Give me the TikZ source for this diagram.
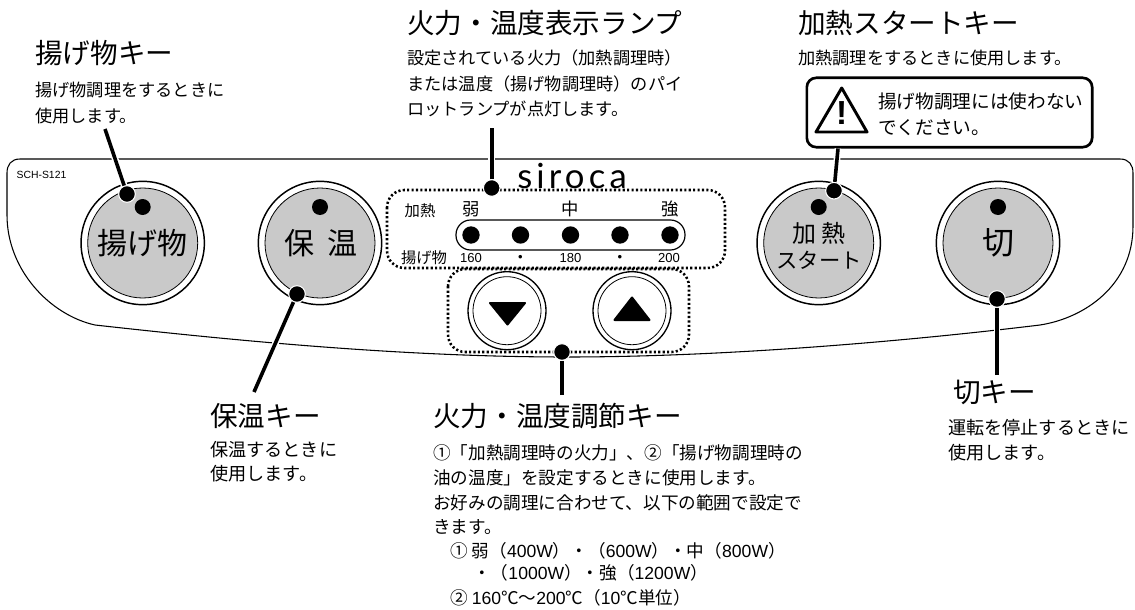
\documentclass[tikz,border=0pt]{standalone}
\usepackage{fontspec}
\setmainfont{Noto Sans CJK JP}
\newfontfamily\arialfont{Liberation Sans}
\newfontfamily\logofont{Lato}[LetterSpace=12]
\usetikzlibrary{positioning,calc}

\begin{document}
\begin{tikzpicture}[x=0.75pt,y=-0.75pt,
        title/.style={anchor=west,inner sep=0pt,font=\fontsize{20.7}{20.7}\selectfont},
        body/.style={anchor=west,inner sep=0pt,font=\fontsize{12.9}{12.9}\selectfont},
        bigbody/.style={anchor=west,inner sep=0pt,font=\fontsize{13.6}{13.6}\selectfont},
        adjbody/.style={anchor=west,inner sep=0pt,font=\fontsize{13.2}{13.2}\selectfont},
        keytext/.style={inner sep=0pt,font=\fontsize{22.5}{22.5}\selectfont},
        small/.style={inner sep=0pt,font=\fontsize{11.5}{11.5}\selectfont},
        level/.style={inner sep=0pt,font=\fontsize{13}{13}\selectfont},
        num/.style={inner sep=0pt,font=\arialfont\fontsize{9.8}{9.8}\selectfont},
        keyouter/.style={circle,draw,line width=1.1pt,fill=white,minimum size=92.5pt,inner sep=0pt},
        keyinner/.style={circle,draw,line width=0.6pt,fill=black!21,minimum size=82.5pt,inner sep=0pt},
        arrowouter/.style={circle,draw,line width=1pt,fill=white,minimum size=58.5pt,inner sep=0pt},
        arrowinner/.style={circle,draw,line width=0.6pt,minimum size=51pt,inner sep=0pt},
        lamp/.style={circle,fill=black,minimum size=12pt,inner sep=0pt},
        led/.style={circle,fill=black,minimum size=13pt,inner sep=0pt},
        leaddot/.style={circle,fill=black,draw=white,line width=0.8pt,minimum size=12.5pt,inner sep=0pt},
        leader/.style={line width=2.7pt,preaction={draw=white,line width=5pt}},
        dotbox/.style={draw,line width=1.9pt,dash pattern=on 1.6pt off 1.7pt,rounded corners=13pt}]
    \useasboundingbox (0,0) rectangle (1135,610);

    % panel outline
    \draw[line width=0.8pt] (20,159) -- (1120,159)
        .. controls (1129,159) and (1133,165) .. (1133,173) -- (1133,226)
        .. controls (1133,285) and (1085,318) .. (1040,325)
        .. controls (900,342) and (720,357) .. (567,357)
        .. controls (400,357) and (230,340) .. (95,325)
        .. controls (50,315) and (7,270) .. (7,215) -- (7,173)
        .. controls (7,165) and (11,159) .. (20,159) -- cycle;
    \node[inner sep=0pt,font=\arialfont\fontsize{7.8}{7.8}\selectfont] (model) at (41.5,175) {SCH-S121};

    % keys
    \foreach \keyname/\keyx in {fry/142.7,warm/320,heat/818.7,off/998} {
        \node[keyouter] (\keyname-o) at (\keyx,243) {};
        \node[keyinner] (\keyname-i) at (\keyx,243) {};
        \node[lamp] (\keyname-l) at (\keyx,207) {};
    }
    \node[keytext] (fry-t) at (142,243) {揚げ物};
    \node[keytext] (warm-t) at (321,243) {保\hspace{0.45em}温};
    \node[inner sep=0pt,font=\fontsize{18}{18}\selectfont] (heat-t1) at (819,233) {加\hspace{0.2em}熱};
    \node[inner sep=0pt,font=\fontsize{16}{16}\selectfont] (heat-t2) at (819,260) {スタート};
    \node[inner sep=0pt,font=\fontsize{24}{24}\selectfont] (off-t) at (998,243) {切};

    % lamp panel
    \draw[dotbox] (387,190) rectangle (725,268);
    \draw[dotbox] (448,269) rectangle (689,352);
    \node[inner sep=0pt,font=\logofont\fontsize{26}{26}\selectfont,anchor=base] (logo) at (572,188) {siroca};
    \draw[line width=0.9pt,rounded corners=11pt] (456,220) rectangle (685,250);
    \foreach \ledname/\ledx in {a/471,b/520.5,c/570.5,d/620,e/670}
        \node[led] (led-\ledname) at (\ledx,235) {};
    \node[small] (lab-heat) at (420,211) {加熱};
    \node[small] (lab-fry) at (424,258) {揚げ物};
    \node[level] (lab-low) at (471,209) {弱};
    \node[level] (lab-mid) at (570.5,209) {中};
    \node[level] (lab-high) at (670,209) {強};
    \node[num] (t160) at (471,258.5) {160};
    \node[num] (t170) at (520.5,258) {•};
    \node[num] (t180) at (570.5,258.5) {180};
    \node[num] (t190) at (620,258) {•};
    \node[num] (t200) at (669,258.5) {200};

    % arrow keys
    \node[arrowouter] (down-o) at (507,310.7) {};
    \node[arrowinner] (down-i) at (507,310.7) {};
    \node[arrowouter] (up-o) at (632,310.7) {};
    \node[arrowinner] (up-i) at (632,310.7) {};
    \fill[line join=round,draw,line width=1.5pt] (490,303) -- (525,303) -- (507.5,324.5) -- cycle;
    \fill[line join=round,draw,line width=1.5pt] (614.5,320) -- (649.5,320) -- (632,297.5) -- cycle;

    % leaders
    \node[leaddot] (dot-fry) at (127,194) {};
    \node[leaddot] (dot-warm) at (297,294) {};
    \node[leaddot] (dot-lamp) at (491.7,188) {};
    \node[leaddot] (dot-adj) at (562,352) {};
    \node[leaddot] (dot-heat) at (834,190.7) {};
    \node[leaddot] (dot-off) at (997,299) {};
    \coordinate (end-fry) at (105,129);
    \coordinate (end-warm) at (254,392);
    \coordinate (end-lamp) at (491.7,128);
    \coordinate (end-adj) at (562,395);
    \coordinate (end-off) at (997,375);
    \draw[leader] (end-fry) -- (dot-fry);
    \draw[leader] (end-warm) -- (dot-warm);
    \draw[leader] (end-lamp) -- (dot-lamp);
    \draw[leader] (end-adj) -- (dot-adj);
    \draw[leader] (end-off) -- (dot-off);

    % caution box
    \node[draw,line width=2pt,rounded corners=7pt,fill=white,minimum width=214pt,minimum height=52pt,inner sep=0pt] (caution) at (949.5,112.5) {};
    \draw[leader] (caution.south -| 838,0) -- (dot-heat);
    \draw[line width=2.2pt,line join=round] (841.7,88) -- (867,132) -- (816,132) -- cycle;
    \node[inner sep=0pt,font=\arialfont\bfseries\fontsize{25}{25}\selectfont] (mark) at (841.7,113) {!};
    \node[anchor=west,inner sep=0pt,font=\fontsize{14}{14}\selectfont] (caution-1) at (878,101.7) {揚げ物調理には使わない};
    \node[anchor=west,inner sep=0pt,font=\fontsize{14}{14}\selectfont] (caution-2) at (878,127.7) {でください。};

    % labels
    \node[title] (fry-h) at (35,53) {揚げ物キー};
    \node[body] (fry-1) at (35,90) {揚げ物調理をするときに};
    \node[body] (fry-2) at (35,116) {使用します。};
    \node[title] (lamp-h) at (407,23) {火力・温度表示ランプ};
    \node[body] (lamp-1) at (407,58) {設定されている火力（加熱調理時）};
    \node[body] (lamp-2) at (407,84) {または温度（揚げ物調理時）のパイ};
    \node[body] (lamp-3) at (407,109) {ロットランプが点灯します。};
    \node[title] (heat-h) at (798,23) {加熱スタートキー};
    \node[body] (heat-1) at (798,58) {加熱調理をするときに使用します。};
    \node[title] (warm-h) at (210,416) {保温キー};
    \node[bigbody] (warm-1) at (210,450) {保温するときに};
    \node[bigbody] (warm-2) at (210,474) {使用します。};
    \node[title] (off-h) at (953,392) {切キー};
    \node[bigbody] (off-1) at (948,428) {運転を停止するときに};
    \node[bigbody] (off-2) at (948,453) {使用します。};
    \node[title] (adj-h) at (433,416) {火力・温度調節キー};
    \node[adjbody] (adj-1) at (433,453) {①「加熱調理時の火力」、②「揚げ物調理時の};
    \node[adjbody] (adj-2) at (433,478) {油の温度」を設定するときに使用します。};
    \node[adjbody] (adj-3) at (433,503) {お好みの調理に合わせて、以下の範囲で設定で};
    \node[adjbody] (adj-4) at (433,527) {きます。};
    \node[adjbody] (adj-5) at (450,551) {① 弱（{\arialfont 400W}）・（{\arialfont 600W}）・中（{\arialfont 800W}）};
    \node[adjbody] (adj-6) at (473,573) {・（{\arialfont 1000W}）・強（{\arialfont 1200W}）};
    \node[adjbody] (adj-7) at (450,598) {② {\arialfont 160}℃～{\arialfont 200}℃（{\arialfont 10}℃単位）};
\end{tikzpicture}
\end{document}
